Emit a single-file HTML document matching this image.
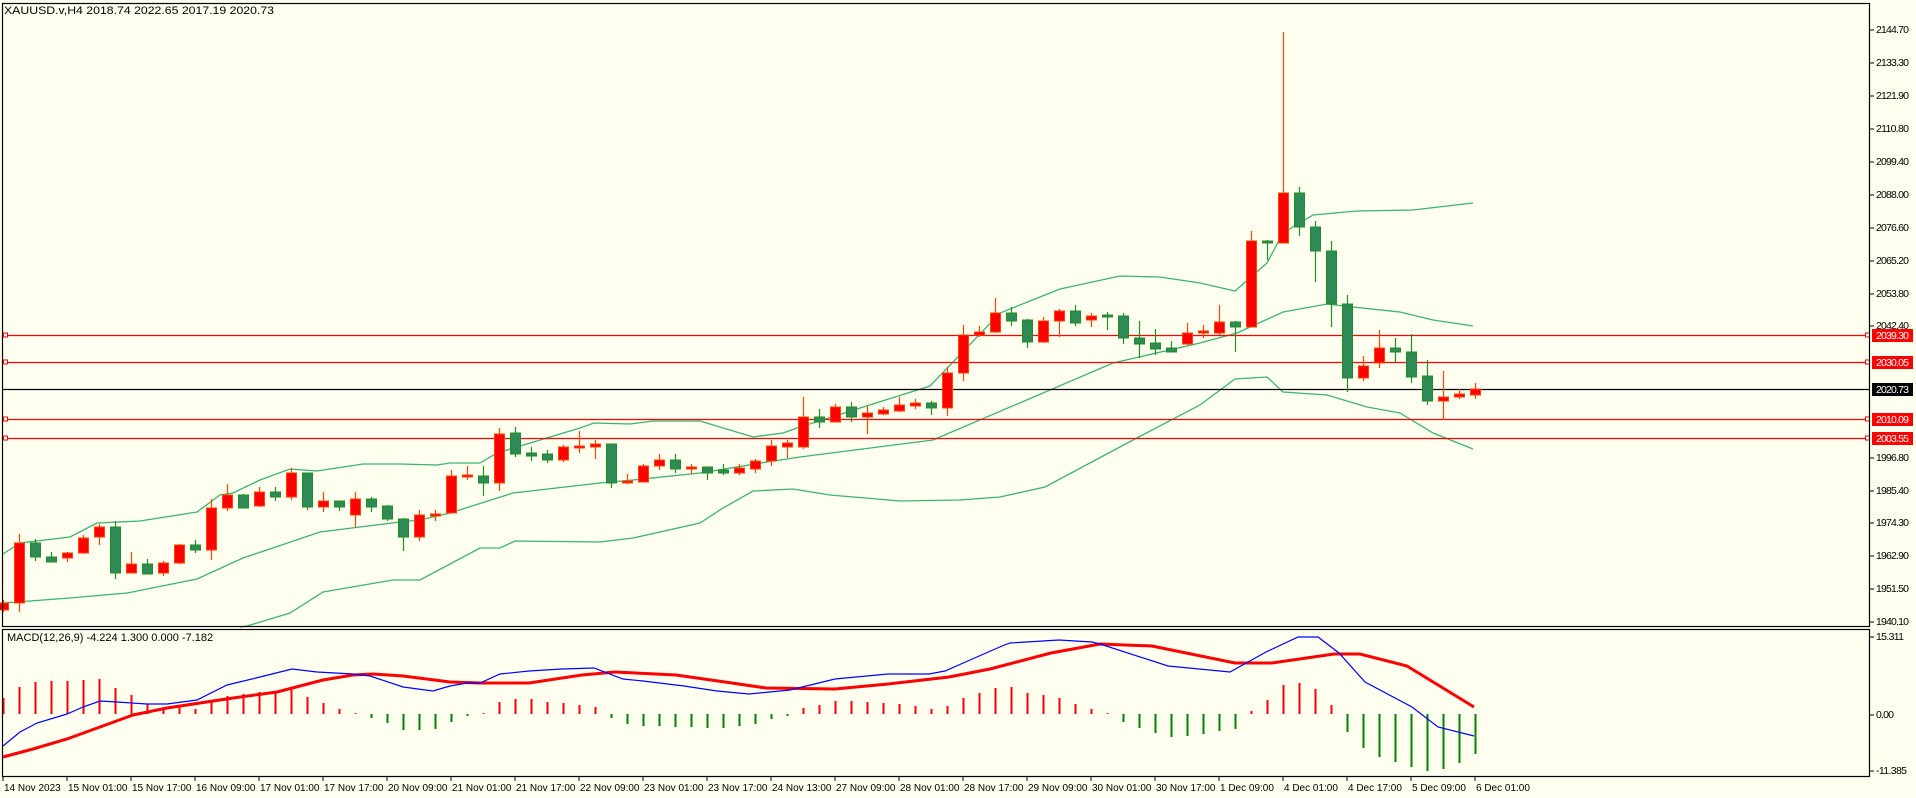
<!DOCTYPE html>
<html><head><meta charset="utf-8"><style>
html,body{margin:0;padding:0;background:#fffff0;}
svg{display:block;font-family:"Liberation Sans",sans-serif;font-size:11px;}
</style></head><body>
<svg id="c" width="1916" height="798" xmlns="http://www.w3.org/2000/svg">
<rect width="1916" height="798" fill="#fffff0"/>
<g id="bands" fill="none" stroke="#3cb371" stroke-width="1.3"></g>
<g id="hl"></g>
<g id="cd"></g>
<g id="mh"></g>
<g id="ml" fill="none"></g>
<rect x="2.5" y="3.5" width="1867" height="623" fill="none" stroke="#000" stroke-width="1.2"/>
<rect x="2.5" y="629.5" width="1867" height="147" fill="none" stroke="#000" stroke-width="1.2"/>
<text x="4" y="14" fill="#000" textLength="270" lengthAdjust="spacingAndGlyphs">XAUUSD.v,H4  2018.74 2022.65 2017.19 2020.73</text>
<text x="7" y="641" fill="#000">MACD(12,26,9) -4.224 1.300 0.000 -7.182</text>
<g id="ax" fill="#000" dominant-baseline="middle" font-size="10.5px">
<text x="1876" y="30" textLength="33">2144.70</text>
<text x="1876" y="63" textLength="33">2133.30</text>
<text x="1876" y="96" textLength="33">2121.90</text>
<text x="1876" y="129" textLength="33">2110.80</text>
<text x="1876" y="162" textLength="33">2099.40</text>
<text x="1876" y="195" textLength="33">2088.00</text>
<text x="1876" y="228" textLength="33">2076.60</text>
<text x="1876" y="261" textLength="33">2065.20</text>
<text x="1876" y="294" textLength="33">2053.80</text>
<text x="1876" y="326" textLength="33">2042.40</text>
<text x="1876" y="458" textLength="33">1996.80</text>
<text x="1876" y="491" textLength="33">1985.40</text>
<text x="1876" y="523" textLength="33">1974.30</text>
<text x="1876" y="556" textLength="33">1962.90</text>
<text x="1876" y="589" textLength="33">1951.50</text>
<text x="1876" y="622" textLength="33">1940.10</text>
<text x="1876" y="637" textLength="28">15.311</text>
<text x="1876" y="715" textLength="18">0.00</text>
<text x="1876" y="771" textLength="31">-11.385</text>
</g>
<g id="pl"></g>
<g id="dl" fill="#000" font-size="10px">
<text x="4" y="791">14 Nov 2023</text>
<text x="68" y="791">15 Nov 01:00</text>
<text x="132" y="791">15 Nov 17:00</text>
<text x="196" y="791">16 Nov 09:00</text>
<text x="260" y="791">17 Nov 01:00</text>
<text x="324" y="791">17 Nov 17:00</text>
<text x="388" y="791">20 Nov 09:00</text>
<text x="452" y="791">21 Nov 01:00</text>
<text x="516" y="791">21 Nov 17:00</text>
<text x="580" y="791">22 Nov 09:00</text>
<text x="644" y="791">23 Nov 01:00</text>
<text x="708" y="791">23 Nov 17:00</text>
<text x="772" y="791">24 Nov 13:00</text>
<text x="836" y="791">27 Nov 09:00</text>
<text x="900" y="791">28 Nov 01:00</text>
<text x="964" y="791">28 Nov 17:00</text>
<text x="1028" y="791">29 Nov 09:00</text>
<text x="1092" y="791">30 Nov 01:00</text>
<text x="1156" y="791">30 Nov 17:00</text>
<text x="1220" y="791">1 Dec 09:00</text>
<text x="1284" y="791">4 Dec 01:00</text>
<text x="1348" y="791">4 Dec 17:00</text>
<text x="1412" y="791">5 Dec 09:00</text>
<text x="1476" y="791">6 Dec 01:00</text>
</g>
<g id="tk" stroke="#000"></g>
</svg>
<script>
var NS="http://www.w3.org/2000/svg";
function el(p,t,a){var e=document.createElementNS(NS,t);for(var k in a)e.setAttribute(k,a[k]);document.getElementById(p).appendChild(e);return e;}
function X(k){return 3.5+16*k;}
var up=[[3,554],[20,543],[70,537],[97,523],[140,521],[197,512],[220,495],[233,493],[260,480],[290,469],[317,471],[363,464],[400,464],[437,465],[450,463],[480,463],[497,453],[580,428],[594,423],[630,424],[653,421],[700,421],[720,427],[753,437],[783,433],[800,427],[930,386],[1000,313],[1060,289],[1120,276],[1160,277],[1200,283],[1235,291],[1267,263],[1283,233],[1313,215],[1357,211],[1413,210],[1473,203]];
var mid=[[3,603],[70,598],[127,593],[197,579],[243,558],[320,532],[400,522],[420,520],[450,513],[513,493],[600,483],[633,480],[700,473],[767,462],[800,457],[933,440],[1050,390],[1113,363],[1200,343],[1237,333],[1283,312],[1327,304],[1353,307],[1400,312],[1433,320],[1473,326]];
var lo=[[240,627],[247,626],[290,613],[323,592],[393,580],[420,580],[480,548],[500,548],[515,541],[600,542],[633,538],[700,523],[723,508],[753,491],[793,489],[830,495],[900,501],[960,500],[1000,497],[1045,487],[1133,440],[1200,405],[1235,379],[1267,377],[1283,392],[1327,395],[1367,407],[1400,413],[1433,433],[1473,449]];
[up,mid,lo].forEach(function(a){el("bands","polyline",{points:a.map(function(p){return p.join(",")}).join(" ")});});
[[335,"2039.30"],[362,"2030.05"],[419,"2010.09"],[438,"2003.55"]].forEach(function(h){
 el("hl","line",{x1:3,x2:1870,y1:h[0]+.5,y2:h[0]+.5,stroke:"#ff0000","stroke-width":1.2});
 el("hl","rect",{x:3.5,y:h[0]-2,width:4,height:4,fill:"#fffff0",stroke:"#ff0000"});
 el("hl","rect",{x:1865.5,y:h[0]-2,width:4,height:4,fill:"#fffff0",stroke:"#ff0000"});
 el("pl","rect",{x:1872,y:h[0]-6,width:41,height:13,fill:"#ff0000"});
 var t=el("pl","text",{x:1876,y:h[0]+1,fill:"#fff","dominant-baseline":"middle","font-size":"10.5px",textLength:33});t.textContent=h[1];
});
el("hl","line",{x1:3,x2:1870,y1:389.5,y2:389.5,stroke:"#000","stroke-width":1.2});
el("pl","rect",{x:1872,y:383,width:41,height:13,fill:"#000"});
var t=el("pl","text",{x:1876,y:390,fill:"#fff","dominant-baseline":"middle","font-size":"10.5px",textLength:33});t.textContent="2020.73";
var C=[[603,610,600,612,'r'],[543,603,534,612,'r'],[543,557,539,561,'g'],[557,562,552,562,'g'],[553,558,552,562,'r'],[538,553,535,554,'r'],[527,537,524,545,'r'],[527,573,521,579,'g'],[564,573,552,573,'r'],[564,574,559,574,'g'],[563,573,561,576,'r'],[545,563,544,564,'r'],[545,550,540,553,'g'],[508,550,499,560,'r'],[495,508,484,511,'r'],[495,508,494,508,'g'],[492,506,487,507,'r'],[492,497,487,501,'g'],[473,497,468,500,'r'],[473,507,473,510,'g'],[501,507,492,512,'r'],[501,507,501,511,'g'],[499,515,492,527,'r'],[499,507,497,512,'g'],[506,519,505,521,'g'],[519,537,518,551,'g'],[515,537,510,541,'r'],[514,516,510,521,'r'],[476,513,470,513,'r'],[475,477,466,480,'r'],[476,483,466,496,'g'],[434,483,428,491,'r'],[433,454,427,457,'g'],[453,456,447,461,'g'],[454,460,450,463,'g'],[447,460,445,462,'r'],[446,448,431,453,'r'],[444,447,440,459,'r'],[444,483,444,488,'g'],[481,483,474,484,'r'],[466,482,464,482,'r'],[460,466,454,470,'r'],[460,469,454,473,'g'],[467,469,464,474,'r'],[467,473,467,480,'g'],[470,473,464,475,'g'],[468,473,464,475,'r'],[461,469,459,473,'r'],[446,461,440,466,'r'],[443,447,440,458,'r'],[417,447,397,449,'r'],[417,422,409,428,'g'],[407,422,404,422,'r'],[407,417,402,422,'g'],[413,417,406,434,'r'],[410,414,407,415,'r'],[405,411,397,412,'r'],[403,406,399,409,'r'],[403,408,401,415,'g'],[373,408,367,416,'r'],[335,373,325,381,'r'],[332,335,326,337,'r'],[313,332,298,333,'r'],[313,321,307,326,'g'],[320,342,319,348,'g'],[321,342,317,343,'r'],[311,321,309,337,'r'],[311,323,305,326,'g'],[316,320,313,327,'r'],[315,317,312,330,'g'],[316,338,313,344,'g'],[338,344,321,358,'g'],[343,349,329,355,'g'],[348,352,341,352,'g'],[333,344,323,345,'r'],[331,333,325,338,'r'],[322,333,305,335,'r'],[322,327,321,352,'g'],[241,327,231,327,'r'],[241,243,240,260,'g'],[193,243,32,243,'r'],[193,227,187,236,'g'],[227,251,221,282,'g'],[251,304,241,327,'g'],[304,378,295,392,'g'],[366,378,356,381,'r'],[348,363,330,368,'r'],[348,352,338,362,'g'],[352,377,334,383,'g'],[376,401,360,405,'g'],[397,401,371,420,'r'],[394,397,389,399,'r'],[389,395,383,399,'r']];
C.forEach(function(c,k){var x=X(k);var s=c[4]=='r'?"#ff4500":"#228b22",f=c[4]=='r'?"#ff0000":"#2e8b57";
 el("cd","line",{x1:x,x2:x,y1:c[2],y2:c[3],stroke:s,"stroke-width":1.2});
 var h=c[1]-c[0];if(h<2){el("cd","line",{x1:x-5,x2:x+5,y1:c[0]+.5,y2:c[0]+.5,stroke:s,"stroke-width":1.5});}
 else el("cd","rect",{x:x-5,y:c[0],width:10,height:h,fill:f,stroke:s,"stroke-width":1});
});
var Z=714;
var H=[698,687,682,681,681,680,679,688,695,704,707,706,709,701,696,694,692,691,689,697,703,709,713,718,723,730,730,729,722,716,713,702,699,699,702,703,705,707,718,724,726,726,727,727,728,728,726,724,719,716,708,705,701,701,702,703,704,706,709,706,698,693,688,687,693,695,698,704,709,713,722,728,733,737,736,734,731,729,711,700,685,683,689,705,732,748,757,762,767,771,769,763,754];
H.forEach(function(v,k){var x=X(k);var g=v>Z;el("mh","line",{x1:x,x2:x,y1:Z,y2:v,stroke:g?"#008000":"#ff0000","stroke-width":2});});
var B=[[3,746],[20,732],[37,723],[67,714],[83,707],[100,701],[117,702],[147,704],[167,704],[197,700],[227,685],[260,677],[292,669],[317,672],[353,674],[370,676],[403,687],[433,691],[450,686],[467,683],[480,683],[500,674],[529,671],[562,669],[594,668],[623,679],[643,681],[684,686],[717,691],[749,694],[790,690],[835,679],[888,674],[929,674],[945,671],[970,660],[1002,646],[1010,643],[1059,640],[1092,642],[1100,644],[1168,666],[1230,672],[1266,652],[1298,637],[1318,637],[1339,653],[1365,682],[1412,707],[1438,727],[1474,736]];
var R=[[3,757],[33,749],[67,739],[100,727],[133,715],[167,708],[200,703],[233,698],[277,692],[323,680],[353,675],[373,674],[403,676],[450,682],[480,683],[529,683],[582,675],[615,672],[676,675],[725,682],[766,688],[835,689],[888,684],[949,677],[990,669],[1051,653],[1100,644],[1152,646],[1235,663],[1272,663],[1334,654],[1360,654],[1407,666],[1474,707]];
el("ml","polyline",{points:R.map(function(p){return p.join(",")}).join(" "),stroke:"#ff0000","stroke-width":3});
el("ml","polyline",{points:B.map(function(p){return p.join(",")}).join(" "),stroke:"#0000ff","stroke-width":1.2});
[30,63,96,129,162,195,228,261,294,326,458,491,523,556,589,622,637,715,771].forEach(function(y){el("tk","line",{x1:1870,x2:1874,y1:y,y2:y});});
for(var i=0;i<24;i++){var x=3+64*i;el("tk","line",{x1:x,x2:x,y1:777,y2:781});}
</script>
</body></html>
